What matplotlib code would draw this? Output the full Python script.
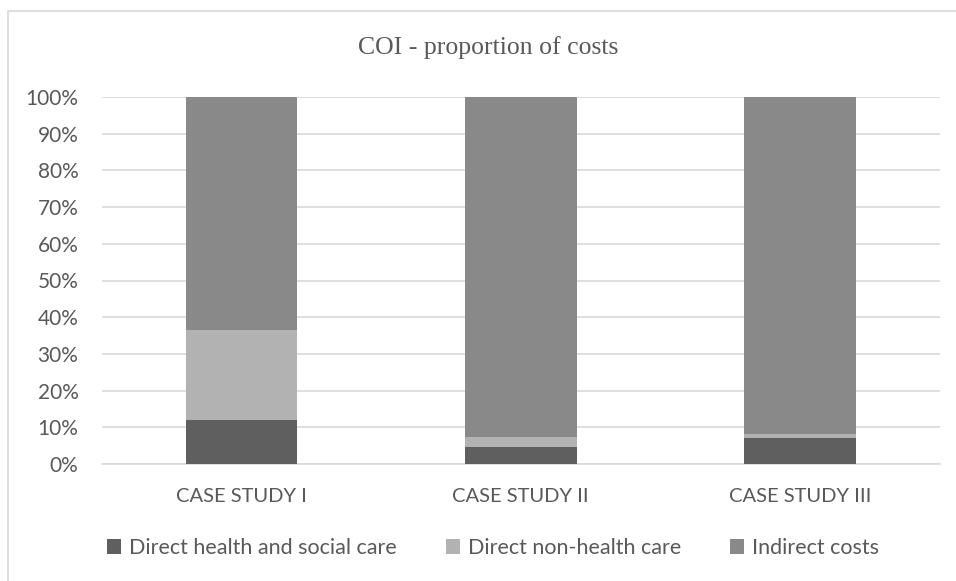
import matplotlib
matplotlib.use('Agg')
import matplotlib.pyplot as plt
import numpy as np
from matplotlib.patches import Rectangle

cases = ['CASE STUDY I', 'CASE STUDY II', 'CASE STUDY III']
direct_health = [12.0, 4.6, 7.2]
direct_non_health = [24.6, 2.8, 1.1]
indirect = [63.4, 92.6, 91.7]

series_names = ['Direct health and social care', 'Direct non-health care', 'Indirect costs']
colors = ['#5f5f5f', '#b2b2b2', '#898989']

plt.rcParams['font.family'] = ['Lato', 'DejaVu Sans']

fig = plt.figure(figsize=(9.56, 5.81), dpi=100)
ax = fig.add_axes([102 / 956, 1 - 464 / 581, (939.6 - 102) / 956, (464 - 97) / 581])

x = np.arange(len(cases))
bottom = np.zeros(len(cases))
for vals, name, c in zip([direct_health, direct_non_health, indirect], series_names, colors):
    ax.bar(x, vals, width=0.4, bottom=bottom, color=c, label=name, zorder=3)
    bottom += np.array(vals)

ax.set_xlim(-0.5, 2.5)
ax.set_ylim(0, 100)
ax.set_yticks(range(0, 101, 10))
ax.set_yticklabels([f'{v}%' for v in range(0, 101, 10)])
ax.set_xticks(x)
ax.set_xticklabels(cases)
ax.grid(axis='y', color='#d9d9d9', linewidth=1.2, zorder=0)
for s in ['top', 'right', 'left']:
    ax.spines[s].set_visible(False)
ax.spines['bottom'].set_color('#d9d9d9')
ax.spines['bottom'].set_linewidth(1.2)
ax.tick_params(length=0, colors='#595959', labelsize=15)
ax.tick_params(axis='x', labelsize=14.5, pad=17)
ax.tick_params(axis='y', pad=17)

fig.text(488 / 956, 1 - 48 / 581, 'COI - proportion of costs', ha='center', va='center',
         family=['Liberation Serif', 'DejaVu Serif'], fontsize=18.5, color='#595959')

fig.legend(loc='center', bbox_to_anchor=(493 / 956, 1 - 548 / 581), ncol=3, frameon=False,
           fontsize=15.5, labelcolor='#595959', handlelength=0.65, handleheight=0.65,
           handletextpad=0.35, columnspacing=2.3)

fig.patches.append(Rectangle((8 / 956, -0.05), 1.2, 1 - 11 / 581 + 0.05, transform=fig.transFigure,
                             fill=False, edgecolor='#d9d9d9', linewidth=1.2))

fig.savefig('out.png', dpi=100)
